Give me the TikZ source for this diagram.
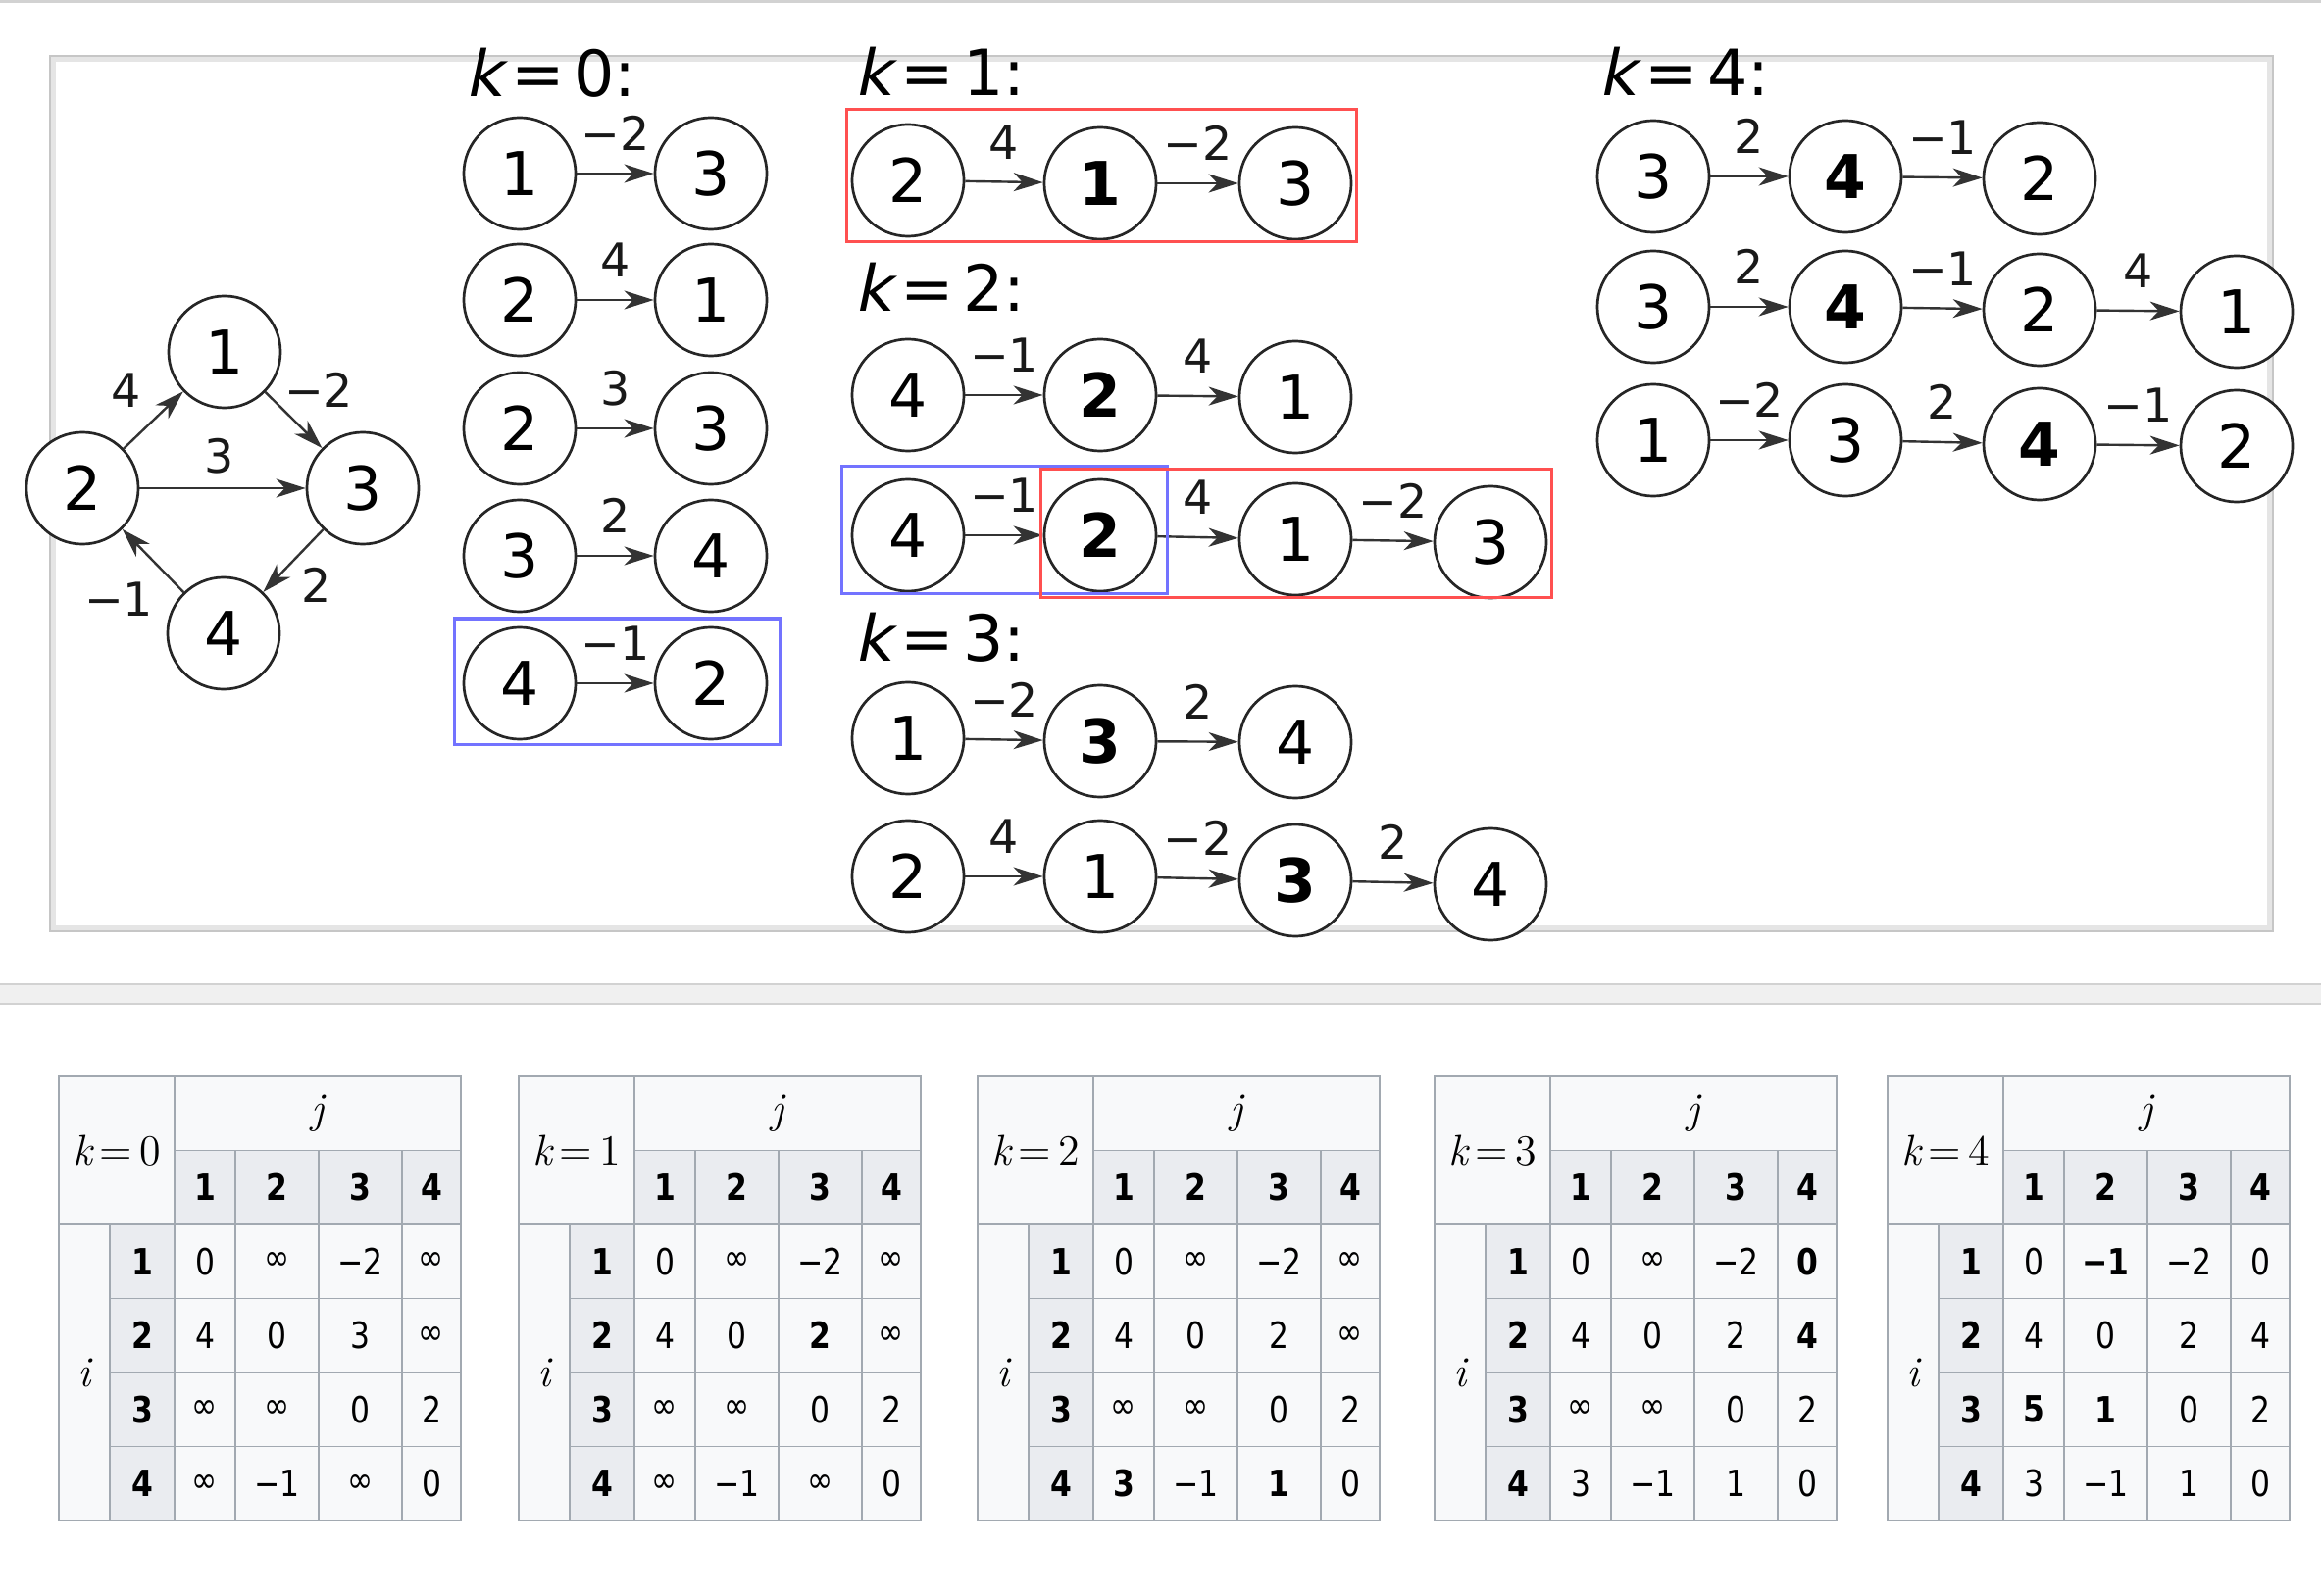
\documentclass[tikz,border=0pt]{standalone}
\usepackage[no-math]{fontspec}
\setmainfont{DejaVu Sans}
\newfontfamily\obl{DejaVu Sans}[FakeSlant=0.21]
\newfontfamily\tabfont{DejaVu Sans}[FakeStretch=0.85]
\newfontfamily\lmr{Latin Modern Roman}
\usetikzlibrary{arrows.meta}
\definecolor{tborder}{HTML}{A2A9B1}
\definecolor{tbg}{HTML}{F8F9FA}
\definecolor{thbg}{HTML}{EAECF0}
\definecolor{boxred}{RGB}{255,80,80}
\definecolor{boxblue}{RGB}{115,115,255}
\tikzset{
  vtx/.style={circle, draw=black!85, line width=0.027cm, minimum size=1.14cm, inner sep=0pt, fill=white, font=\fontsize{17.5}{17.5}\selectfont},
  bvtx/.style={vtx, font=\fontsize{17.5}{17.5}\selectfont\bfseries},
  arr/.style={-{Stealth[length=0.30cm, width=0.19cm, inset=0.09cm]}, line width=0.024cm, draw=black!80},
  elab/.style={font=\fontsize{13.5}{13.5}\selectfont, inner sep=0pt, anchor=base, yshift=0.23cm, text=black!90},
  glab/.style={font=\fontsize{13.5}{13.5}\selectfont, inner sep=0pt, text=black!90},
  khead/.style={anchor=base west, inner sep=0pt, font=\fontsize{18.5}{18.5}\selectfont},
  hbox/.style={line width=0.03cm},
  cellbase/.style={draw=tborder, line width=0.016cm, inner sep=0pt, minimum height=0.755cm, font=\tabfont\fontsize{10.5}{11}\selectfont},
  tcell/.style={cellbase, fill=tbg, font=\lmr\fontsize{12.5}{12.5}\selectfont},
  thcell/.style={cellbase, fill=thbg, font=\tabfont\fontsize{10.5}{11}\selectfont\bfseries},
  tdcell/.style={cellbase, fill=tbg}
}
\newcommand\linkto[3]{\draw[arr] (#1) -- (#2) node[elab, midway] {#3};}
\newcommand\mktable[3]{%
  \node[tcell, minimum width=1.18cm, minimum height=1.51cm] (#1k) at ({#2+59},1173.5) {{\itshape k}\,=\,#3};
  \node[tcell, minimum width=2.92cm] (#1j) at ({#2+264},1135.75) {\itshape j};
  \node[tcell, minimum width=0.52cm, minimum height=3.02cm] (#1i) at ({#2+26},1400) {\itshape i};
  \node[thcell, minimum width=0.62cm] (#1c1) at ({#2+149},1211.25) {1};
  \node[thcell, minimum width=0.85cm] (#1c2) at ({#2+222.5},1211.25) {2};
  \node[thcell, minimum width=0.85cm] (#1c3) at ({#2+307.5},1211.25) {3};
  \node[thcell, minimum width=0.60cm] (#1c4) at ({#2+380},1211.25) {4};
}
\newcommand\tabrow[7]{%
  \node[thcell, minimum width=0.66cm] (#1r#3) at ({#2+85},{1249+(#3-0.5)*75.5}) {#3};
  \node[tdcell, minimum width=0.62cm] (#1d#3a) at ({#2+149},{1249+(#3-0.5)*75.5}) {#4};
  \node[tdcell, minimum width=0.85cm] (#1d#3b) at ({#2+222.5},{1249+(#3-0.5)*75.5}) {#5};
  \node[tdcell, minimum width=0.85cm] (#1d#3c) at ({#2+307.5},{1249+(#3-0.5)*75.5}) {#6};
  \node[tdcell, minimum width=0.60cm] (#1d#3d) at ({#2+380},{1249+(#3-0.5)*75.5}) {#7};
}
\newcommand\infsym{∞}
\begin{document}
\begin{tikzpicture}[x=0.01cm,y=-0.01cm]
\useasboundingbox (0,0) rectangle (2367,1628);
\fill[white] (0,0) rectangle (2367,1628);
% top rule
\draw[gray!35, line width=0.03cm] (0,1.5) -- (2367,1.5);
% frame
\draw[gray!20, line width=0.06cm] (54,60) rectangle (2315,947);
\draw[gray!45, line width=0.02cm] (51,57) rectangle (2318,950);
% separator band
\fill[gray!12] (0,1003) rectangle (2367,1025);
\draw[gray!35, line width=0.02cm] (0,1004) -- (2367,1004);
\draw[gray!35, line width=0.02cm] (0,1024) -- (2367,1024);

% ---------- left graph ----------
\node[vtx] (g1) at (229,359) {1};
\node[vtx] (g2) at (84,498) {2};
\node[vtx] (g3) at (370,498) {3};
\node[vtx] (g4) at (228,646) {4};
\draw[arr] (g2) -- (g1);
\draw[arr] (g1) -- (g3);
\draw[arr] (g2) -- (g3);
\draw[arr] (g3) -- (g4);
\draw[arr] (g4) -- (g2);
\node[glab] (gl21) at (129,398) {4};
\node[glab] (gl13) at (325,398) {−2};
\node[glab] (gl23) at (224,465) {3};
\node[glab] (gl34) at (323,597) {2};
\node[glab] (gl42) at (121,611) {−1};

% ---------- k = 0 ----------
\node[khead] (h0) at (474,99) {{\obl k}\hspace{0.14em}=\hspace{0.14em}0:};
\node[vtx] (a1l) at (530,177) {1}; \node[vtx] (a1r) at (725,177) {3}; \linkto{a1l}{a1r}{−2}
\node[vtx] (a2l) at (530,306) {2}; \node[vtx] (a2r) at (725,306) {1}; \linkto{a2l}{a2r}{4}
\node[vtx] (a3l) at (530,437) {2}; \node[vtx] (a3r) at (725,437) {3}; \linkto{a3l}{a3r}{3}
\node[vtx] (a4l) at (530,567) {3}; \node[vtx] (a4r) at (725,567) {4}; \linkto{a4l}{a4r}{2}
\node[vtx] (a5l) at (530,697) {4}; \node[vtx] (a5r) at (725,697) {2}; \linkto{a5l}{a5r}{−1}
\draw[boxblue, hbox] (463,631) rectangle (795,759);

% ---------- k = 1 ----------
\node[khead] (h1) at (871,98) {{\obl k}\hspace{0.14em}=\hspace{0.14em}1:};
\node[vtx] (b1) at (926,184) {2};
\node[bvtx] (b2) at (1122,187) {1};
\node[vtx] (b3) at (1321,187) {3};
\linkto{b1}{b2}{4}\linkto{b2}{b3}{−2}
\draw[boxred, hbox] (863,112) rectangle (1383,247);

% ---------- k = 2 ----------
\node[khead] (h2) at (871,318) {{\obl k}\hspace{0.14em}=\hspace{0.14em}2:};
\node[vtx] (c1) at (926,403) {4};
\node[bvtx] (c2) at (1122,403) {2};
\node[vtx] (c3) at (1321,405) {1};
\linkto{c1}{c2}{−1}\linkto{c2}{c3}{4}
\node[vtx] (d1) at (926,546) {4};
\node[bvtx] (d2) at (1122,546) {2};
\node[vtx] (d3) at (1321,550) {1};
\node[vtx] (d4) at (1520,553) {3};
\linkto{d1}{d2}{−1}\linkto{d2}{d3}{4}\linkto{d3}{d4}{−2}
\draw[boxblue, hbox] (858,476) rectangle (1190,606);
\draw[boxred, hbox] (1061,479) rectangle (1582,610);

% ---------- k = 3 ----------
\node[khead] (h3) at (871,674) {{\obl k}\hspace{0.14em}=\hspace{0.14em}3:};
\node[vtx] (e1) at (926,753) {1};
\node[bvtx] (e2) at (1122,756) {3};
\node[vtx] (e3) at (1321,757) {4};
\linkto{e1}{e2}{−2}\linkto{e2}{e3}{2}
\node[vtx] (f1) at (926,894) {2};
\node[vtx] (f2) at (1122,894) {1};
\node[bvtx] (f3) at (1321,898) {3};
\node[vtx] (f4) at (1520,902) {4};
\linkto{f1}{f2}{4}\linkto{f2}{f3}{−2}\linkto{f3}{f4}{2}

% ---------- k = 4 ----------
\node[khead] (h4) at (1630,98) {{\obl k}\hspace{0.14em}=\hspace{0.14em}4:};
\node[vtx] (p1) at (1686,180) {3};
\node[bvtx] (p2) at (1882,180) {4};
\node[vtx] (p3) at (2080,182) {2};
\linkto{p1}{p2}{2}\linkto{p2}{p3}{−1}
\node[vtx] (q1) at (1686,313) {3};
\node[bvtx] (q2) at (1882,313) {4};
\node[vtx] (q3) at (2080,316) {2};
\node[vtx] (q4) at (2281,318) {1};
\linkto{q1}{q2}{2}\linkto{q2}{q3}{−1}\linkto{q3}{q4}{4}
\node[vtx] (s1) at (1686,449) {1};
\node[vtx] (s2) at (1882,449) {3};
\node[bvtx] (s3) at (2080,453) {4};
\node[vtx] (s4) at (2281,455) {2};
\linkto{s1}{s2}{−2}\linkto{s2}{s3}{2}\linkto{s3}{s4}{−1}

% ---------- tables ----------
\mktable{ta}{60}{0}
\tabrow{ta}{60}{1}{0}{\infsym}{−2}{\infsym}
\tabrow{ta}{60}{2}{4}{0}{3}{\infsym}
\tabrow{ta}{60}{3}{\infsym}{\infsym}{0}{2}
\tabrow{ta}{60}{4}{\infsym}{−1}{\infsym}{0}

\mktable{tb}{529}{1}
\tabrow{tb}{529}{1}{0}{\infsym}{−2}{\infsym}
\tabrow{tb}{529}{2}{4}{0}{\textbf{2}}{\infsym}
\tabrow{tb}{529}{3}{\infsym}{\infsym}{0}{2}
\tabrow{tb}{529}{4}{\infsym}{−1}{\infsym}{0}

\mktable{tc}{997}{2}
\tabrow{tc}{997}{1}{0}{\infsym}{−2}{\infsym}
\tabrow{tc}{997}{2}{4}{0}{2}{\infsym}
\tabrow{tc}{997}{3}{\infsym}{\infsym}{0}{2}
\tabrow{tc}{997}{4}{\textbf{3}}{−1}{\textbf{1}}{0}

\mktable{td}{1463}{3}
\tabrow{td}{1463}{1}{0}{\infsym}{−2}{\textbf{0}}
\tabrow{td}{1463}{2}{4}{0}{2}{\textbf{4}}
\tabrow{td}{1463}{3}{\infsym}{\infsym}{0}{2}
\tabrow{td}{1463}{4}{3}{−1}{1}{0}

\mktable{te}{1925}{4}
\tabrow{te}{1925}{1}{0}{\textbf{−1}}{−2}{0}
\tabrow{te}{1925}{2}{4}{0}{2}{4}
\tabrow{te}{1925}{3}{\textbf{5}}{\textbf{1}}{0}{2}
\tabrow{te}{1925}{4}{3}{−1}{1}{0}
\end{tikzpicture}
\end{document}
